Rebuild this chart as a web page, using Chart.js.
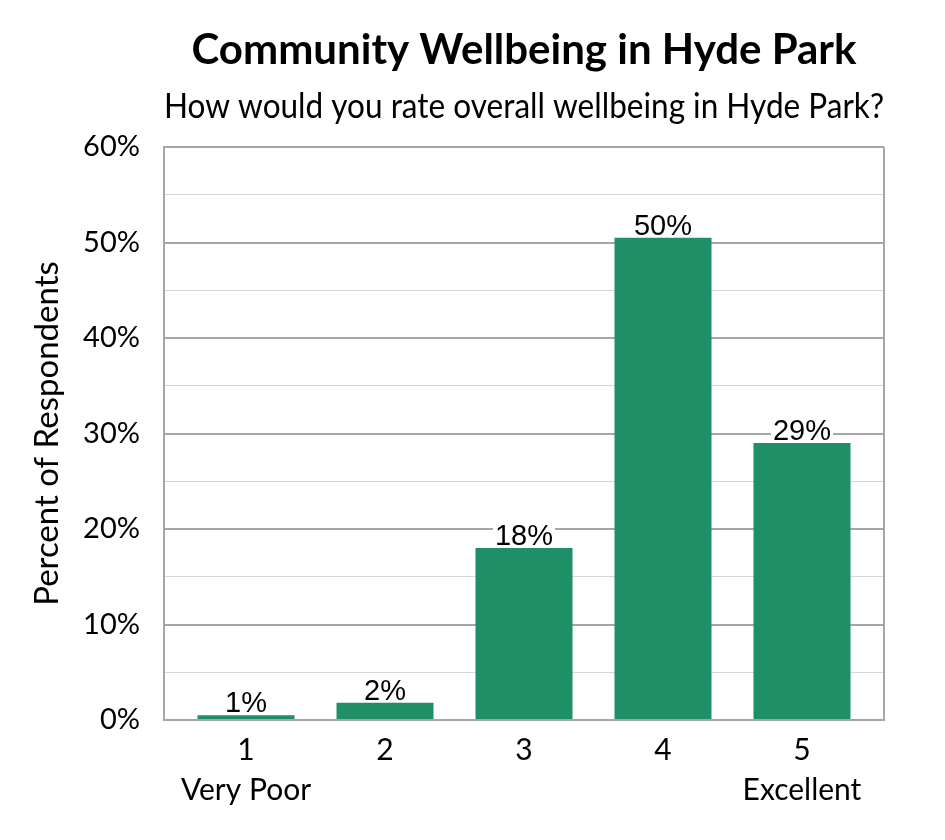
<!DOCTYPE html>
<html>
<head>
<meta charset="utf-8">
<script src="https://cdn.jsdelivr.net/npm/chart.js@4/dist/chart.umd.min.js"></script>
<style>
html,body{margin:0;padding:0;background:#fff;}
#wrap{width:945px;height:840px;}
</style>
</head>
<body>
<div id="wrap"><canvas id="c" width="945" height="840"></canvas></div>
<script>
const categories = [["1","Very Poor"],["2"],["3"],["4"],["5","Excellent"]];
const categoryPositions = [1, 2, 3, 4, 5];
const percentValues = [0.5, 1.8, 18.0, 50.5, 29.0];
const valueLabels = ["1%","2%","18%","50%","29%"];
const yTicks = [0,10,20,30,40,50,60];

const FONT = 'Lato, "Open Sans", sans-serif';

const labelPlugin = {
  id:'valueLabels',
  afterDatasetsDraw(chart){
    const ctx = chart.ctx;
    const meta = chart.getDatasetMeta(0);
    ctx.save();
    ctx.font = '29px "Liberation Sans", Arial, sans-serif';
    ctx.textAlign = 'center';
    ctx.textBaseline = 'alphabetic';
    meta.data.forEach((bar,i)=>{
      const t = valueLabels[i];
      const m = ctx.measureText(t);
      const w = m.width + 4;
      const base = bar.y - 3;
      ctx.fillStyle = '#fff';
      ctx.fillRect(bar.x - w/2, base - m.actualBoundingBoxAscent - 1, w, m.actualBoundingBoxAscent + 2);
      ctx.fillStyle = '#000';
      ctx.fillText(t, bar.x, base);
    });
    ctx.restore();
  }
};

new Chart(document.getElementById('c'), {
  type:'bar',
  data:{
    datasets:[{
      data:percentValues.map((v,i)=>({x:categoryPositions[i], y:v})),
      backgroundColor:'#1E8F66',
      borderWidth:0,
      barPercentage:0.698,
      categoryPercentage:1.0
    }]
  },
  options:{
    responsive:false,
    animation:false,
    devicePixelRatio:1,
    layout:{padding:{top:25,right:61,bottom:10,left:28}},
    plugins:{
      legend:{display:false},
      tooltip:{enabled:false},
      title:{
        display:true,
        fullSize:false,
        text:'Community Wellbeing in Hyde Park',
        color:'#000',
        font:{family:FONT,size:42,weight:'bold',lineHeight:1.2},
        padding:{top:0,bottom:10}
      },
      subtitle:{
        display:true,
        fullSize:false,
        text:'How would you rate overall wellbeing in Hyde Park?',
        color:'#000',
        font:{family:FONT,size:35.3,lineHeight:1.18},
        padding:{top:0,bottom:20}
      }
    },
    scales:{
      x:{
        type:'linear',
        min:0.41, max:5.59,
        offset:false,
        grid:{display:false,drawTicks:false},
        border:{display:true,color:'#A6A6A6',width:2},
        ticks:{
          color:'#000',
          font:{family:FONT,size:30,lineHeight:1.33},
          padding:10,maxRotation:0,autoSkip:false,
          callback:(v)=> { const i = categoryPositions.indexOf(v); return i >= 0 ? categories[i] : ''; }
        },
        afterBuildTicks:(s)=>{ s.ticks = categoryPositions.map(v => ({value:v})); },
        afterFit:(s)=>{ s.height = 110; }
      },
      y:{
        min:0,max:60,
        title:{display:true,text:'Percent of Respondents',color:'#000',font:{family:FONT,size:33,lineHeight:1.2},padding:{top:0,bottom:14}},
        border:{display:true,color:'#A6A6A6',width:2},
        grid:{
          drawTicks:false,
          color:(c)=> (c.tick && c.tick.value % 10 === 0) ? '#A6A6A6' : '#D6D6D6',
          lineWidth:(c)=> (c.tick && c.tick.value % 10 === 0) ? 2 : 1
        },
        ticks:{
          stepSize:5,
          color:'#000',
          padding:24,
          font:{family:FONT,size:29},
          callback:(v)=> yTicks.includes(v) ? v + '%' : ''
        },
        afterFit:(s)=>{ s.width = 136; }
      }
    }
  },
  plugins:[labelPlugin,{
    id:'frame',
    afterDraw(chart){
      const {ctx, chartArea:a} = chart;
      ctx.save();
      ctx.strokeStyle='#A6A6A6';
      ctx.lineWidth=2;
      ctx.beginPath();
      ctx.moveTo(a.left,a.top);ctx.lineTo(a.right,a.top);
      ctx.moveTo(a.right,a.top);ctx.lineTo(a.right,a.bottom);
      ctx.stroke();
      ctx.restore();
    }
  }]
});
</script>
</body>
</html>
